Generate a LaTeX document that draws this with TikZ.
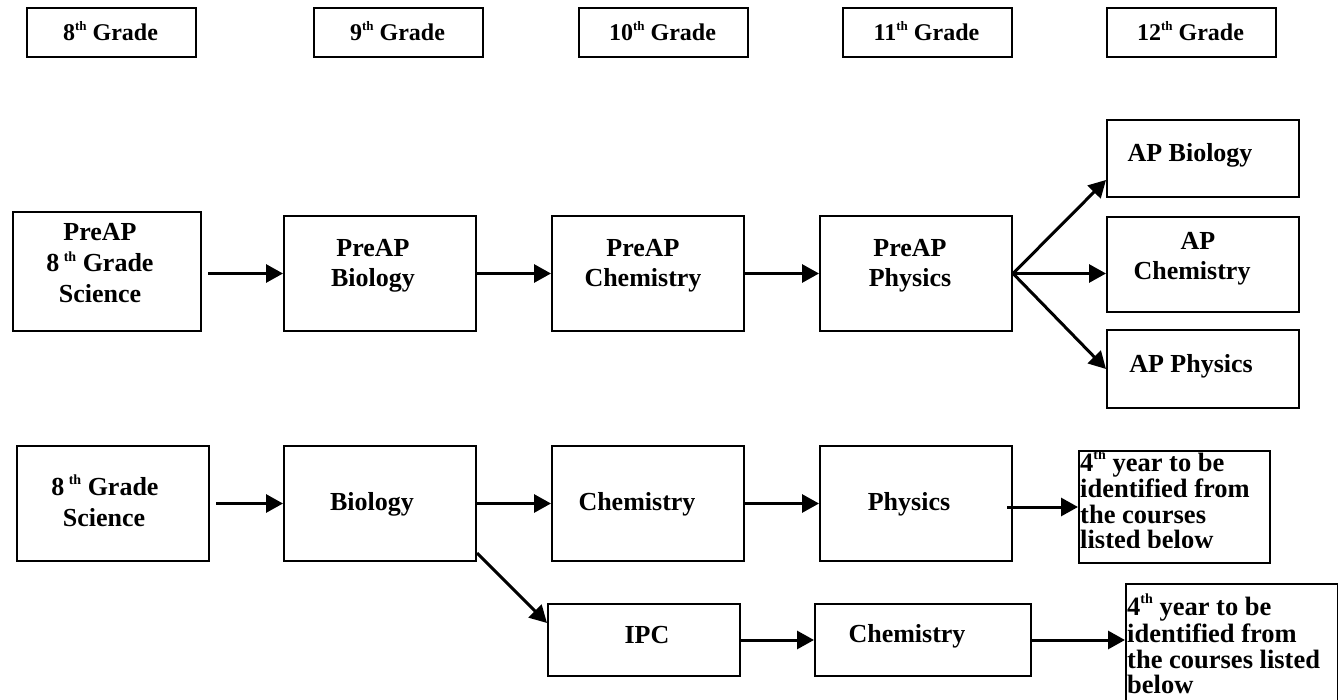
\documentclass[tikz,border=0pt]{standalone}
\usepackage{fontspec}
\setmainfont{Liberation Serif}
\usetikzlibrary{arrows.meta}
\newcommand{\supth}[1]{\raisebox{0.42em}{\fontsize{#1}{#1}\selectfont th}}
\begin{document}
\begin{tikzpicture}[x=1pt,y=-1pt,
  box/.style={draw, line width=2pt, inner sep=0pt, anchor=north west},
  lbl/.style={anchor=base, inner sep=0pt, font=\fontsize{26}{30}\selectfont\bfseries},
  yrtxt/.style={anchor=base west, inner sep=0pt, font=\fontsize{26.5}{30}\selectfont\bfseries},
  hdr/.style={anchor=base, inner sep=0pt, font=\fontsize{24}{28}\selectfont\bfseries},
  arr/.style={line width=3pt, -{Triangle[length=17pt,width=18pt]}}]
\useasboundingbox (0,0) rectangle (1338,700);
\clip (0,0) rectangle (1338,700);

% header boxes
\node[box,minimum width=169pt,minimum height=49pt] (g8) at (26,7) {};
\node[box,minimum width=169pt,minimum height=49pt] (g9) at (313,7) {};
\node[box,minimum width=169pt,minimum height=49pt] (g10) at (578,7) {};
\node[box,minimum width=169pt,minimum height=49pt] (g11) at (842,7) {};
\node[box,minimum width=169pt,minimum height=49pt] (g12) at (1106,7) {};
\node[hdr] (g8t) at (110.5,41) {8\supth{13} Grade};
\node[hdr] (g9t) at (397.5,41) {9\supth{13} Grade};
\node[hdr] (g10t) at (662.5,41) {10\supth{13} Grade};
\node[hdr] (g11t) at (926.5,41) {11\supth{13} Grade};
\node[hdr] (g12t) at (1190.5,41) {12\supth{13} Grade};

% PreAP row
\node[box,minimum width=188pt,minimum height=119pt] (p8) at (12,211) {};
\node[box,minimum width=192pt,minimum height=115pt] (pbio) at (283,215) {};
\node[box,minimum width=192pt,minimum height=115pt] (pchem) at (551,215) {};
\node[box,minimum width=192pt,minimum height=115pt] (pphys) at (819,215) {};
\node[box,minimum width=192pt,minimum height=77pt] (apbio) at (1106,119) {};
\node[box,minimum width=192pt,minimum height=95pt] (apchem) at (1106,216) {};
\node[box,minimum width=192pt,minimum height=78pt] (apphys) at (1106,329) {};

\node[lbl] (p8a) at (100,241) {PreAP};
\node[lbl] (p8b) at (100,272) {8\,\supth{14} Grade};
\node[lbl] (p8c) at (100,303) {Science};
\node[lbl] (pbioa) at (373,257) {PreAP};
\node[lbl] (pbiob) at (373,287) {Biology};
\node[lbl] (pchema) at (643,257) {PreAP};
\node[lbl] (pchemb) at (643,287) {Chemistry};
\node[lbl] (pphysa) at (910,257) {PreAP};
\node[lbl] (pphysb) at (910,287) {Physics};
\node[lbl] (apbiot) at (1190,162) {AP Biology};
\node[lbl] (apchema) at (1198,250) {AP};
\node[lbl] (apchemb) at (1192,280) {Chemistry};
\node[lbl] (apphyst) at (1191,372) {AP Physics};

\draw[arr] ([xshift=6pt]p8.east |- pbio.west) -- (pbio.west);
\draw[arr] (pbio.east) -- (pchem.west);
\draw[arr] (pchem.east) -- (pphys.west);
\draw[arr] (pphys.east) -- ([yshift=18pt]apbio.south west);
\draw[arr] (pphys.east) -- (pphys.east -| apchem.west);
\draw[arr] (pphys.east) -- (apphys.west);

% regular row
\node[box,minimum width=192pt,minimum height=115pt] (s8) at (16,445) {};
\node[box,minimum width=192pt,minimum height=115pt] (bio) at (283,445) {};
\node[box,minimum width=192pt,minimum height=115pt] (chem) at (551,445) {};
\node[box,minimum width=192pt,minimum height=115pt] (phys) at (819,445) {};
\node[box,minimum width=191pt,minimum height=112pt] (y4a) at (1078,450) {};
\node[box,minimum width=192pt,minimum height=72pt] (ipc) at (547,603) {};
\node[box,minimum width=216pt,minimum height=72pt] (chem2) at (814,603) {};
\node[box,minimum width=212pt,minimum height=140pt] (y4b) at (1125,583) {};

\node[lbl] (s8a) at (105,495) {8\,\supth{14} Grade};
\node[lbl] (s8b) at (104,526) {Science};
\node[lbl] (biot) at (372,510) {Biology};
\node[lbl] (chemt) at (637,510) {Chemistry};
\node[lbl] (physt) at (909,510) {Physics};
\node[lbl] (ipct) at (647,643) {IPC};
\node[lbl] (chem2t) at (907,642) {Chemistry};

\begin{scope}
\clip (1078,450) rectangle (1269,547);
\node[yrtxt] (y4a1) at (1080,471) {4\supth{14} year to be};
\node[yrtxt] (y4a2) at (1080,497) {identified from};
\node[yrtxt] (y4a3) at (1080,523) {the courses};
\node[yrtxt] (y4a4) at (1080,548) {listed below};
\end{scope}
\begin{scope}
\clip (1125,583) rectangle (1338,693);
\node[yrtxt] (y4b1) at (1127,615) {4\supth{14} year to be};
\node[yrtxt] (y4b2) at (1127,642) {identified from};
\node[yrtxt] (y4b3) at (1127,668) {the courses listed};
\node[yrtxt] (y4b4) at (1127,693) {below};
\end{scope}

\draw[arr] ([xshift=6pt]s8.east |- bio.west) -- (bio.west);
\draw[arr] (bio.east) -- (chem.west);
\draw[arr] (chem.east) -- (phys.west);
\draw[arr] ([xshift=-6pt]phys.east |- y4a.west) -- (y4a.west);
\draw[arr] ([yshift=9pt]bio.south east) -- ([yshift=-20pt]ipc.north west);
\draw[arr] (ipc.east) -- (chem2.west);
\draw[arr] (chem2.east) -- (chem2.east -| y4b.west);
\end{tikzpicture}
\end{document}
